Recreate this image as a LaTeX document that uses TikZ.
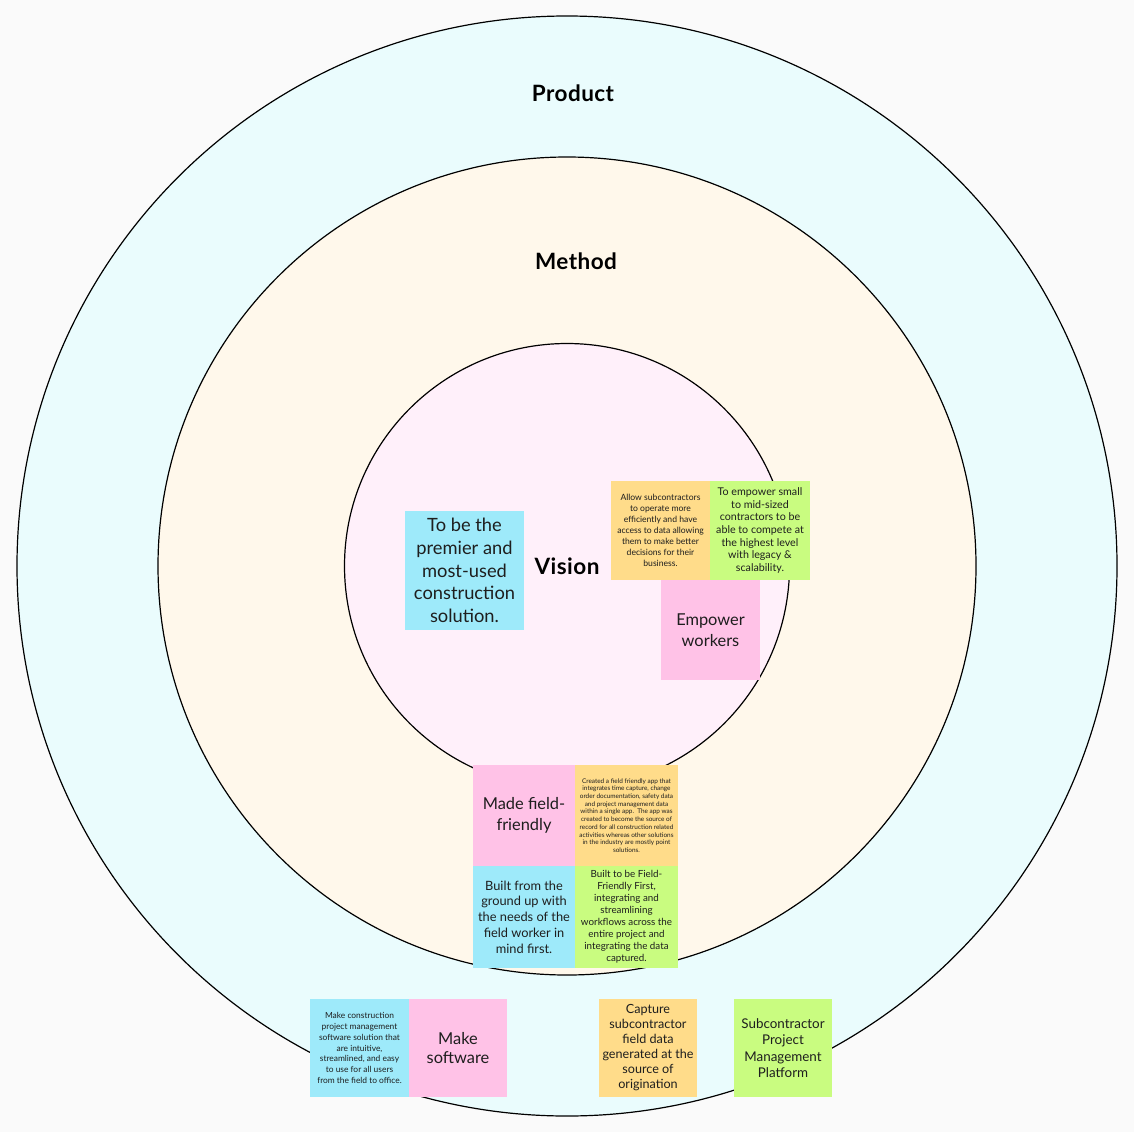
\documentclass[tikz,border=0pt]{standalone}
\usepackage{fontspec}
\setmainfont{Lato}
\definecolor{pagebg}{HTML}{FAFAFA}
\definecolor{productfill}{HTML}{EAFCFD}
\definecolor{methodfill}{HTML}{FFF8EB}
\definecolor{visionfill}{HTML}{FFF0FA}
\definecolor{noteblue}{HTML}{9EEAFA}
\definecolor{noteorange}{HTML}{FFDC8A}
\definecolor{notegreen}{HTML}{C9FC80}
\definecolor{notepink}{HTML}{FFC2E7}
\definecolor{notetext}{HTML}{1E1E1E}
\newcommand{\fs}[2]{\fontsize{#1}{#2}\selectfont}

\begin{document}
\begin{tikzpicture}[x=1pt, y=-1pt,
    ring/.style={circle, draw=black, line width=1.2pt, inner sep=0pt},
    title/.style={font=\bfseries\fs{22.5}{26}\addfontfeatures{LetterSpace=2}},
    note/.style={rectangle, inner sep=1pt, align=center, text=notetext,
      minimum width=99pt, minimum height=99pt}]
    \fill[pagebg] (0, 0) rectangle (1134, 1132);
    \useasboundingbox (0, 0) rectangle (1134, 1132);
    % rings
    \node[ring, fill=productfill, minimum size=1100pt] at (567, 566) (product) {};
    \node[ring, fill=methodfill, minimum size=818pt] at (567, 566) (method) {};
    \node[ring, fill=visionfill, minimum size=445pt] at (567, 566) (vision) {};
    \node[title] at (573, 93) (productlabel) {Product};
    \node[title] at (576, 261) (methodlabel) {Method};
    \node[title] at (567, 566) (visionlabel) {Vision};
    % vision notes
    \node[note, fill=noteblue, minimum size=119pt, font=\fs{18.3}{22.7}]
      at (464.5, 570.5) (premier)
      {To be the\\premier and\\most-used\\construction\\solution.};
    \node[note, fill=noteorange, font=\fs{8.6}{11}]
      at (660.5, 530.5) (allow)
      {Allow subcontractors\\to operate more\\efficiently and have\\access to data allowing\\them to make better\\decisions for their\\business.};
    \node[note, fill=notegreen, minimum width=100pt, font=\fs{10.7}{12.7}]
      at (760, 530.5) (small)
      {To empower small\\to mid-sized\\contractors to be\\able to compete at\\the highest level\\with legacy \&\\scalability.};
    \node[note, fill=notepink, minimum height=100pt, font=\fs{16.4}{20.5}]
      at (710.5, 630) (empower)
      {Empower\\workers};
    % method notes
    \node[note, fill=notepink, minimum width=102pt, minimum height=101pt, font=\fs{16.4}{21}]
      at (524, 815.5) (madeff)
      {Made field-\\friendly};
    \node[note, fill=noteorange, minimum width=103pt, minimum height=101pt, font=\fs{6.4}{7.7}]
      at (626.5, 815.5) (created)
      {Created a field friendly app that\\integrates time capture, change\\order documentation, safety data\\and project management data\\within a single app.\ \ The app was\\created to become the source of\\record for all construction related\\activities whereas other solutions\\in the industry are mostly point\\solutions.};
    \node[note, fill=noteblue, minimum width=102pt, minimum height=102pt, font=\fs{12.8}{15.7}]
      at (524, 917) (ground)
      {Built from the\\ground up with\\the needs of the\\field worker in\\mind first.};
    \node[note, fill=notegreen, minimum width=103pt, minimum height=102pt, font=\fs{9.8}{12}]
      at (626.5, 917) (fieldfirst)
      {Built to be Field-\\Friendly First,\\integrating and\\streamlining\\workflows across the\\entire project and\\integrating the data\\captured.};
    % product notes
    \node[note, fill=noteblue, minimum height=98pt, font=\fs{8.4}{10.7}]
      at (359.5, 1048) (intuitive)
      {Make construction\\project management\\software solution that\\are intuitive,\\streamlined, and easy\\to use for all users\\from the field to office.};
    \node[note, fill=notepink, minimum width=98pt, minimum height=98pt, font=\fs{16.4}{19.5}]
      at (458, 1048) (software)
      {Make\\software};
    \node[note, fill=noteorange, minimum width=98pt, minimum height=98pt, font=\fs{12.6}{15}]
      at (648, 1048) (capture)
      {Capture\\subcontractor\\field data\\generated at the\\source of\\origination};
    \node[note, fill=notegreen, minimum width=98pt, minimum height=98pt, font=\fs{13.4}{16.3}]
      at (783, 1048) (platform)
      {Subcontractor\\Project\\Management\\Platform};
  \end{tikzpicture}
\end{document}
